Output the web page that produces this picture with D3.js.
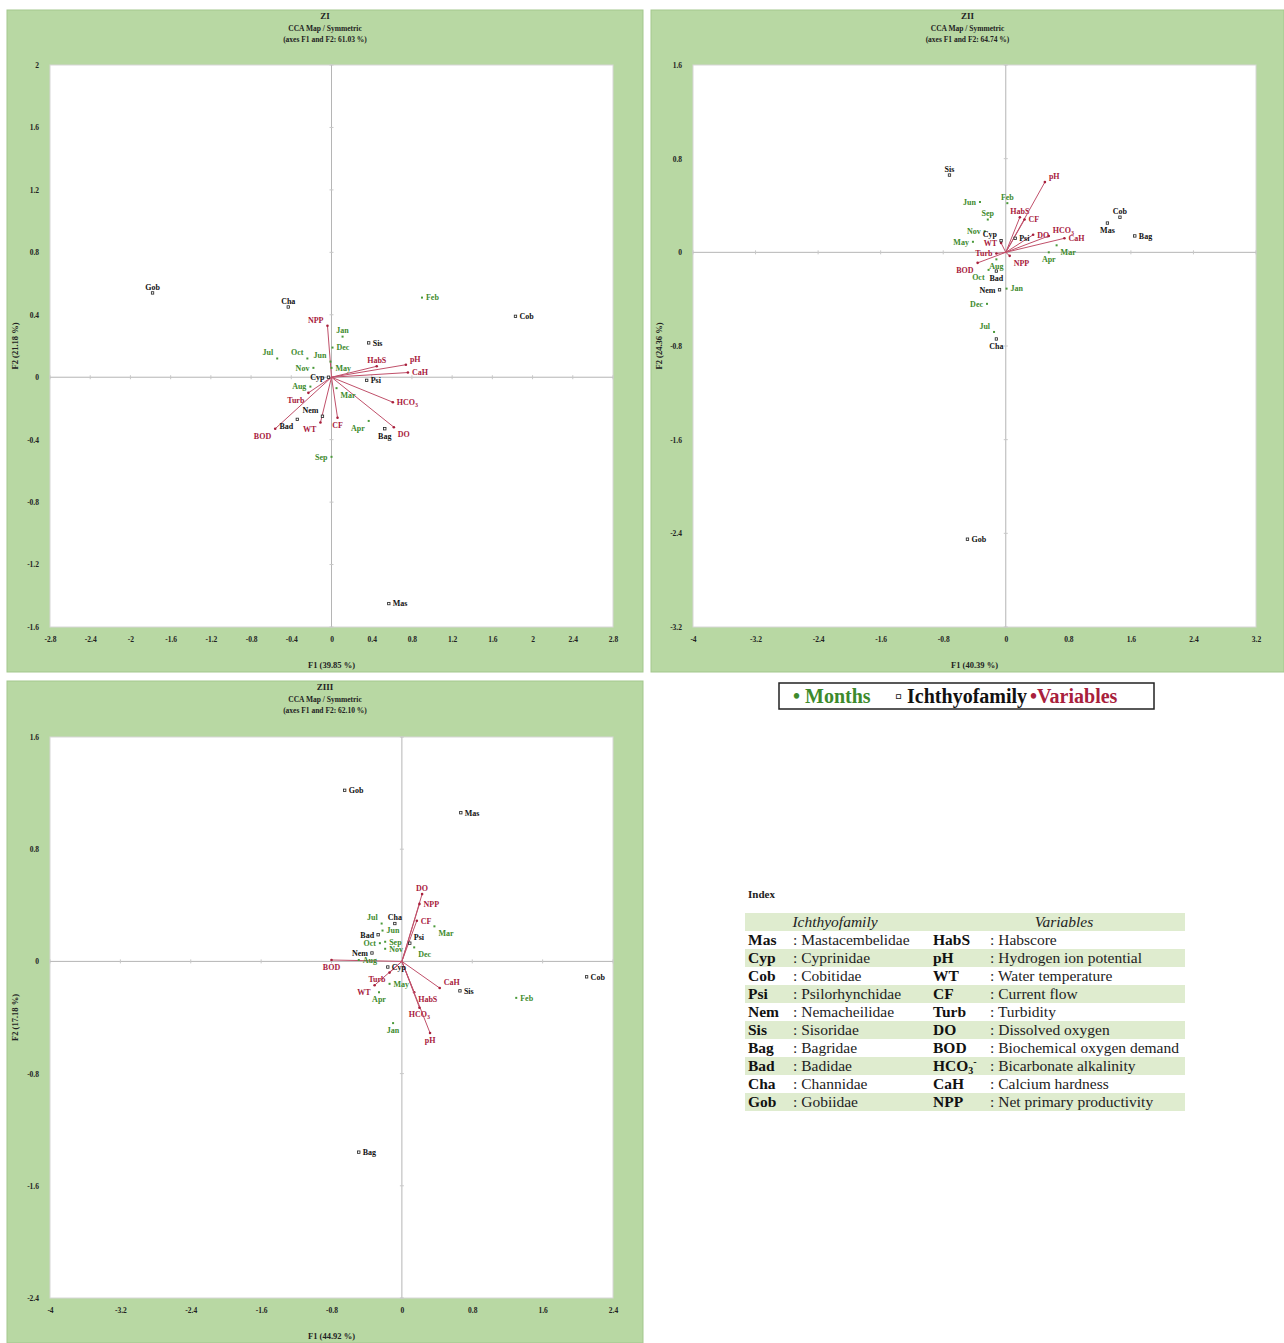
<!DOCTYPE html>
<html>
<head>
<meta charset="utf-8">
<script src="https://cdn.jsdelivr.net/npm/d3@7"></script>
<style>
  html, body { margin: 0; padding: 0; background: #fff; }
  svg { display: block; font-family: "Liberation Serif", "DejaVu Serif", serif; }
</style>
</head>
<body>
<svg id="chart" width="1284" height="1343"></svg>
<script>
// ---- categories ----
const months = ['Jan', 'Feb', 'Mar', 'Apr', 'May', 'Jun', 'Jul', 'Aug', 'Sep', 'Oct', 'Nov', 'Dec'];
const families = ['Mas', 'Cyp', 'Cob', 'Psi', 'Nem', 'Sis', 'Bag', 'Bad', 'Cha', 'Gob'];
const variables = ['HabS', 'pH', 'WT', 'CF', 'Turb', 'DO', 'BOD', 'HCO3', 'CaH', 'NPP'];
const familyNames = ['Mastacembelidae', 'Cyprinidae', 'Cobitidae', 'Psilorhynchidae', 'Nemacheilidae',
  'Sisoridae', 'Bagridae', 'Badidae', 'Channidae', 'Gobiidae'];
const variableNames = ['Habscore', 'Hydrogen ion potential', 'Water temperature', 'Current flow', 'Turbidity',
  'Dissolved oxygen', 'Biochemical oxygen demand', 'Bicarbonate alkalinity', 'Calcium hardness', 'Net primary productivity'];

// ---- ZI scores [F1, F2] ----
const zI_months = [[0.11, 0.26], [0.90, 0.51], [0.05, -0.07], [0.37, -0.28], [0.0, 0.06], [-0.01, 0.10],
  [-0.54, 0.12], [-0.21, -0.06], [0.0, -0.51], [-0.24, 0.12], [-0.18, 0.06], [0.01, 0.19]];
const zI_families = [[0.57, -1.45], [-0.03, 0.0], [1.83, 0.39], [0.35, -0.02], [-0.09, -0.25],
  [0.37, 0.22], [0.53, -0.33], [-0.34, -0.27], [-0.43, 0.45], [-1.78, 0.54]];
const zI_variables = [[0.45, 0.07], [0.74, 0.08], [-0.11, -0.29], [0.06, -0.26], [-0.23, -0.10],
  [0.62, -0.32], [-0.56, -0.33], [0.61, -0.16], [0.76, 0.03], [-0.04, 0.33]];

// ---- ZII scores ----
const zII_months = [[0.01, -0.31], [0.02, 0.42], [0.65, 0.06], [0.55, 0.0], [-0.42, 0.09], [-0.33, 0.43],
  [-0.15, -0.68], [-0.12, -0.06], [-0.23, 0.28], [-0.22, -0.15], [-0.27, 0.18], [-0.24, -0.44]];
const zII_families = [[1.30, 0.25], [-0.06, 0.10], [1.46, 0.30], [0.12, 0.12], [-0.08, -0.32],
  [-0.72, 0.66], [1.65, 0.14], [-0.12, -0.16], [-0.12, -0.74], [-0.49, -2.45]];
const zII_variables = [[0.18, 0.30], [0.50, 0.60], [-0.06, 0.08], [0.24, 0.28], [-0.12, -0.01],
  [0.35, 0.15], [-0.36, -0.09], [0.55, 0.14], [0.75, 0.12], [0.05, -0.03]];

// ---- ZIII scores ----
const zIII_months = [[-0.10, -0.44], [1.30, -0.26], [0.37, 0.25], [-0.26, -0.22], [-0.14, -0.16], [-0.22, 0.22],
  [-0.23, 0.27], [-0.49, 0.01], [-0.19, 0.14], [-0.25, 0.13], [-0.19, 0.09], [0.14, 0.10]];
const zIII_families = [[0.67, 1.06], [-0.16, -0.04], [2.10, -0.11], [0.09, 0.13], [-0.34, 0.06],
  [0.66, -0.21], [-0.49, -1.36], [-0.27, 0.19], [-0.08, 0.27], [-0.65, 1.22]];
const zIII_variables = [[0.14, -0.22], [0.32, -0.51], [-0.31, -0.17], [0.17, 0.29], [-0.14, -0.08],
  [0.23, 0.48], [-0.80, 0.01], [0.20, -0.33], [0.43, -0.19], [0.20, 0.41]];

// ---- panel texts ----
const panelNames = ['ZI', 'ZII', 'ZIII'];
const panelInertia = ['61.03', '64.74', '62.10'];
const f1Labels = ['F1 (39.85 %)', 'F1 (40.39 %)', 'F1 (44.92 %)'];
const f2Labels = ['F2 (21.18 %)', 'F2 (24.36 %)', 'F2 (17.18 %)'];

// label placement (r,l,t,b, tr, tl, br, bl) — layout only
const place = {
  ZI: {
    Jan: 't', Feb: 'r', Mar: 'br', Apr: 'bl', May: 'r', Jun: 'tl', Jul: 'tl', Aug: 'l', Sep: 'l', Oct: 'tl', Nov: 'l', Dec: 'r',
    Mas: 'r', Cyp: 'l', Cob: 'r', Psi: 'r', Nem: 'tl', Sis: 'r', Bag: 'b', Bad: 'bl', Cha: 't', Gob: 't',
    HabS: 't', pH: 'tr', WT: 'bl', CF: 'b', Turb: 'bl', DO: 'br', BOD: 'bl', HCO3: 'r', CaH: 'r', NPP: 'tl'
  },
  ZII: {
    Jan: 'r', Feb: 't', Mar: 'br', Apr: 'b', May: 'l', Jun: 'l', Jul: 'tl', Aug: 'b', Sep: 't', Oct: 'bl', Nov: 'l', Dec: 'l',
    Mas: 'b', Cyp: 'tl', Cob: 't', Psi: 'r', Nem: 'l', Sis: 't', Bag: 'r', Bad: 'b', Cha: 'b', Gob: 'r',
    HabS: 't', pH: 'tr', WT: 'l', CF: 'r', Turb: 'l', DO: 'r', BOD: 'bl', HCO3: 'tr', CaH: 'r', NPP: 'br'
  },
  ZIII: {
    Jan: 'b', Feb: 'r', Mar: 'br', Apr: 'b', May: 'r', Jun: 'r', Jul: 'tl', Aug: 'r', Sep: 'r', Oct: 'l', Nov: 'r', Dec: 'br',
    Mas: 'r', Cyp: 'r', Cob: 'r', Psi: 'tr', Nem: 'l', Sis: 'r', Bag: 'r', Bad: 'l', Cha: 't', Gob: 'r',
    HabS: 'br', pH: 'b', WT: 'bl', CF: 'r', Turb: 'bl', DO: 't', BOD: 'b', HCO3: 'b', CaH: 'tr', NPP: 'r'
  }
};

const GREEN_TXT = '#3d8a2c';
const RED = '#a8203c';
const RED_LINE = '#c0506a';
const PANEL_BG = '#b8d8a3';

const panels = [
  { name: 'ZI', box: [7, 10, 636, 662], plot: [50, 65, 613, 627], xd: [-2.8, 2.8], yd: [-1.6, 2], step: 0.4,
    m: zI_months, f: zI_families, v: zI_variables, i: 0 },
  { name: 'ZII', box: [651, 10, 633, 662], plot: [693, 65, 1256, 627], xd: [-4, 3.2], yd: [-3.2, 1.6], step: 0.8,
    m: zII_months, f: zII_families, v: zII_variables, i: 1 },
  { name: 'ZIII', box: [7, 681, 636, 662], plot: [50, 737, 613, 1298], xd: [-4, 2.4], yd: [-2.4, 1.6], step: 0.8,
    m: zIII_months, f: zIII_families, v: zIII_variables, i: 2 }
];

const svg = d3.select('#chart');

function tickVals(d, step) {
  const n = Math.round((d[1] - d[0]) / step);
  return d3.range(n + 1).map(k => +(d[0] + k * step).toFixed(2));
}

function addLabel(g, px, py, text, code, color) {
  let x = px, y = py, anchor = 'middle';
  if (code.includes('r')) { x += 4; anchor = 'start'; }
  if (code.includes('l')) { x -= 4; anchor = 'end'; }
  if (code.includes('t')) { y -= 6; }
  if (code.includes('b')) { y += 7; }
  if (code === 't' || code === 'b') anchor = 'middle';
  const t = g.append('text')
    .attr('x', x).attr('y', y).attr('dy', '0.35em')
    .attr('text-anchor', anchor)
    .attr('font-size', 8).attr('font-weight', 'bold')
    .attr('fill', color);
  if (text === 'HCO3') {
    t.append('tspan').text('HCO');
    t.append('tspan').attr('font-size', 6).attr('dy', 2).text('3');
  } else {
    t.text(text);
  }
}

panels.forEach(p => {
  const [bx, by, bw, bh] = p.box;
  const [x0, y0, x1, y1] = p.plot;
  const g = svg.append('g');

  g.append('rect').attr('x', bx).attr('y', by).attr('width', bw).attr('height', bh)
    .attr('fill', PANEL_BG).attr('stroke', '#a3c78d').attr('stroke-width', 1);

  const x = d3.scaleLinear().domain(p.xd).range([x0, x1]);
  const y = d3.scaleLinear().domain(p.yd).range([y1, y0]);

  g.append('rect').attr('x', x0).attr('y', y0).attr('width', x1 - x0).attr('height', y1 - y0)
    .attr('fill', '#fff').attr('stroke', '#d6d6d6');

  // titles
  const cx = bx + bw / 2;
  const title = g.append('g').attr('text-anchor', 'middle').attr('font-weight', 'bold').attr('fill', '#222');
  title.append('text').attr('x', cx).attr('y', by + 9).attr('font-size', 9).text(panelNames[p.i]);
  title.append('text').attr('x', cx).attr('y', by + 21).attr('font-size', 7.5).text('CCA Map / Symmetric');
  title.append('text').attr('x', cx).attr('y', by + 32).attr('font-size', 7.5)
    .text('(axes F1 and F2: ' + panelInertia[p.i] + ' %)');

  const fmt = d => String(+d.toFixed(1));
  // tick labels via axes
  const xa = g.append('g').attr('transform', `translate(0,${y1 + 7})`)
    .call(d3.axisBottom(x).tickValues(tickVals(p.xd, p.step)).tickSize(0).tickFormat(fmt));
  xa.select('.domain').remove();
  xa.selectAll('text').attr('font-size', 7.5).attr('font-weight', 'bold').attr('fill', '#222')
    .attr('font-family', '"Liberation Serif", serif');
  const ya = g.append('g').attr('transform', `translate(${x0 - 8},0)`)
    .call(d3.axisLeft(y).tickValues(tickVals(p.yd, p.step)).tickSize(0).tickFormat(fmt));
  ya.select('.domain').remove();
  ya.selectAll('text').attr('font-size', 7.5).attr('font-weight', 'bold').attr('fill', '#222')
    .attr('font-family', '"Liberation Serif", serif');

  // axis titles
  g.append('text').attr('x', (x0 + x1) / 2).attr('y', y1 + 41).attr('text-anchor', 'middle')
    .attr('font-size', 8.5).attr('font-weight', 'bold').attr('fill', '#222').text(f1Labels[p.i]);
  g.append('text').attr('transform', `translate(${bx + 11},${(y0 + y1) / 2}) rotate(-90)`)
    .attr('text-anchor', 'middle').attr('font-size', 8.5).attr('font-weight', 'bold').attr('fill', '#222')
    .text(f2Labels[p.i]);

  // zero lines with small ticks
  g.append('line').attr('x1', x0).attr('x2', x1).attr('y1', y(0)).attr('y2', y(0))
    .attr('stroke', '#b5b5b5');
  g.append('line').attr('x1', x(0)).attr('x2', x(0)).attr('y1', y0).attr('y2', y1)
    .attr('stroke', '#b5b5b5');
  tickVals(p.xd, p.step).forEach(v => {
    g.append('line').attr('x1', x(v)).attr('x2', x(v)).attr('y1', y(0) - 2).attr('y2', y(0) + 2)
      .attr('stroke', '#c8c8c8');
  });
  tickVals(p.yd, p.step).forEach(v => {
    g.append('line').attr('x1', x(0) - 2).attr('x2', x(0) + 2).attr('y1', y(v)).attr('y2', y(v))
      .attr('stroke', '#c8c8c8');
  });

  const pl = place[p.name];

  // variables: arrows
  p.v.forEach((d, k) => {
    g.append('line').attr('x1', x(0)).attr('y1', y(0)).attr('x2', x(d[0])).attr('y2', y(d[1]))
      .attr('stroke', RED_LINE).attr('stroke-width', 1);
    g.append('circle').attr('cx', x(d[0])).attr('cy', y(d[1])).attr('r', 1.3).attr('fill', RED);
    addLabel(g, x(d[0]), y(d[1]), variables[k], pl[variables[k]], RED);
  });

  // months
  p.m.forEach((d, k) => {
    g.append('rect').attr('x', x(d[0]) - 1).attr('y', y(d[1]) - 1).attr('width', 2).attr('height', 2)
      .attr('fill', '#4a9a3a');
    addLabel(g, x(d[0]), y(d[1]), months[k], pl[months[k]], GREEN_TXT);
  });

  // families
  p.f.forEach((d, k) => {
    g.append('rect').attr('x', x(d[0]) - 1.2).attr('y', y(d[1]) - 1.2).attr('width', 2.4).attr('height', 2.4)
      .attr('fill', '#fff').attr('stroke', '#222').attr('stroke-width', 0.8);
    addLabel(g, x(d[0]), y(d[1]), families[k], pl[families[k]], '#111');
  });
});

// ---- legend ----
const lg = svg.append('g').attr('font-size', 20).attr('font-weight', 'bold');
lg.append('rect').attr('x', 779).attr('y', 683).attr('width', 375).attr('height', 26)
  .attr('fill', '#fff').attr('stroke', '#222').attr('stroke-width', 1.5);
lg.append('text').attr('x', 793).attr('y', 703).attr('fill', GREEN_TXT).text('• Months');
lg.append('text').attr('x', 895).attr('y', 703).attr('fill', '#111').text('▫ Ichthyofamily');
lg.append('text').attr('x', 1030).attr('y', 703).attr('fill', RED).text('•Variables');

// ---- index table ----
const ix = svg.append('g');
const fs = 15.5;
ix.append('text').attr('x', 748).attr('y', 898).attr('font-size', 11).attr('font-weight', 'bold')
  .attr('fill', '#222').text('Index');
const rowH = 18, tableTop = 913;
ix.append('rect').attr('x', 745).attr('y', tableTop).attr('width', 440).attr('height', rowH).attr('fill', '#dfeccf');
ix.append('text').attr('x', 835).attr('y', tableTop + 14).attr('text-anchor', 'middle').attr('font-size', fs)
  .attr('font-style', 'italic').attr('fill', '#222').text('Ichthyofamily');
ix.append('text').attr('x', 1064).attr('y', tableTop + 14).attr('text-anchor', 'middle').attr('font-size', fs)
  .attr('font-style', 'italic').attr('fill', '#222').text('Variables');
families.forEach((f, k) => {
  const ry = tableTop + rowH * (k + 1);
  if (k % 2 === 1) {
    ix.append('rect').attr('x', 745).attr('y', ry).attr('width', 440).attr('height', rowH).attr('fill', '#dfeccf');
  }
  const by = ry + 14;
  ix.append('text').attr('x', 748).attr('y', by).attr('font-size', fs).attr('font-weight', 'bold')
    .attr('fill', '#111').text(f);
  ix.append('text').attr('x', 793).attr('y', by).attr('font-size', fs).attr('fill', '#222')
    .text(': ' + familyNames[k]);
  const vt = ix.append('text').attr('x', 933).attr('y', by).attr('font-size', fs).attr('font-weight', 'bold')
    .attr('fill', '#111');
  if (variables[k] === 'HCO3') {
    vt.append('tspan').text('HCO');
    vt.append('tspan').attr('font-size', 10).attr('dy', 3).text('3');
    vt.append('tspan').attr('font-size', 10).attr('dy', -9).text('-');
  } else {
    vt.text(variables[k]);
  }
  ix.append('text').attr('x', 990).attr('y', by).attr('font-size', fs).attr('fill', '#222')
    .text(': ' + variableNames[k]);
});
</script>
</body>
</html>
